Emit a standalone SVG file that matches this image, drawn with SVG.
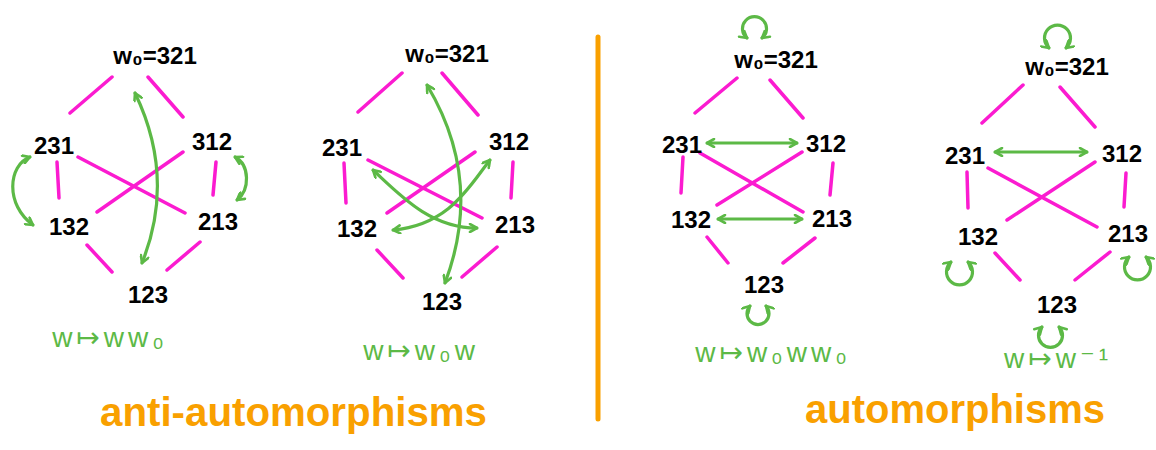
<svg xmlns="http://www.w3.org/2000/svg" width="1156" height="450" viewBox="0 0 1156 450">
<style>
.e{stroke:#fb1bd0;stroke-width:3.5;stroke-linecap:round;fill:none}
.g{stroke:#5cb946;stroke-width:3.2;stroke-linecap:round;fill:none;marker-start:url(#ah);marker-end:url(#ah)}
.n{font-family:"Liberation Sans","DejaVu Sans",sans-serif;font-size:24px;font-weight:bold;fill:#000;text-anchor:middle}
.lb{font-family:"Liberation Sans","DejaVu Sans",sans-serif;font-size:28px;fill:#5cb946;text-anchor:middle;letter-spacing:4px}
.t{font-family:"Liberation Sans","DejaVu Sans",sans-serif;font-size:40px;font-weight:bold;fill:#f9a000}
</style>
<defs>
<marker id="ah" viewBox="0 0 10 10" refX="9" refY="5" markerWidth="10" markerHeight="10" markerUnits="userSpaceOnUse" orient="auto-start-reverse">
<path d="M2 1 L9 5 L2 9" fill="none" stroke="#5cb946" stroke-width="2.6" stroke-linecap="round" stroke-linejoin="round"/>
</marker>
</defs>
<rect width="1156" height="450" fill="#fff"/>
<g id="connectors">
<path class="e" d="M112 77L70 113M148 77L183 117M57 162L59 198M216 162L213 195M78 157L185 213M183 152L97 212M87 245L112 272M200 242L167 270"/>
<path class="e" d="M402 73L358 112M442 73L478 115M344 163L346 203M513 162L511 198M368 160L482 218M475 152L387 213M377 250L403 278M497 247L462 277"/>
<path class="e" d="M737 78L695 113M770 80L803 118M683 157L681 193M833 163L830 195M700 153L803 212M802 152L717 205M707 237L728 263M815 238L783 263"/>
<path class="e" d="M1023 85L982 123M1060 87L1095 127M967 172L968 208M1126 173L1124 207M988 168L1097 227M1095 162L1007 220M995 253L1020 280M1110 252L1075 280"/>
<path class="g" d="M135 93Q176 178 142 263"/>
<path class="g" d="M30 157C8 165 5 205 33 225"/>
<path class="g" d="M235 157C250 165 250 190 237 200"/>
<path class="g" d="M427 85Q484 180 445 283"/>
<path class="g" d="M373 170C400 195 430 228 477 228"/>
<path class="g" d="M490 160C470 185 450 225 393 230"/>
<path class="g" d="M707 143L797 143"/>
<path class="g" d="M718 219L802 219"/>
<path class="g" d="M747 38A12 12 0 1 1 762 38"/>
<path class="g" d="M750 306A11 11 0 1 0 766 306"/>
<path class="g" d="M995 152L1087 152"/>
<path class="g" d="M1049 48A13 13 0 1 1 1066 48"/>
<path class="g" d="M951 262A13 13 0 1 0 968 262"/>
<path class="g" d="M1129 257A13 13 0 1 0 1146 257"/>
<path class="g" d="M1042 327A12 12 0 1 0 1059 327"/>
</g>
<g id="d1-321"><text class="n" x="155" y="64">w₀=321</text></g>
<g id="d1-231"><text class="n" x="54" y="154">231</text></g>
<g id="d1-312"><text class="n" x="212" y="150">312</text></g>
<g id="d1-132"><text class="n" x="69" y="235">132</text></g>
<g id="d1-213"><text class="n" x="218" y="230">213</text></g>
<g id="d1-123"><text class="n" x="148" y="303">123</text></g>
<g id="d2-321"><text class="n" x="447" y="62">w₀=321</text></g>
<g id="d2-231"><text class="n" x="342" y="156">231</text></g>
<g id="d2-312"><text class="n" x="509" y="150">312</text></g>
<g id="d2-132"><text class="n" x="357" y="237">132</text></g>
<g id="d2-213"><text class="n" x="515" y="233">213</text></g>
<g id="d2-123"><text class="n" x="442" y="310">123</text></g>
<g id="d3-321"><text class="n" x="776" y="68">w₀=321</text></g>
<g id="d3-231"><text class="n" x="682" y="153">231</text></g>
<g id="d3-312"><text class="n" x="826" y="152">312</text></g>
<g id="d3-132"><text class="n" x="691" y="228">132</text></g>
<g id="d3-213"><text class="n" x="832" y="227">213</text></g>
<g id="d3-123"><text class="n" x="764" y="293">123</text></g>
<g id="d4-321"><text class="n" x="1067" y="75">w₀=321</text></g>
<g id="d4-231"><text class="n" x="965" y="164">231</text></g>
<g id="d4-312"><text class="n" x="1122" y="162">312</text></g>
<g id="d4-132"><text class="n" x="978" y="245">132</text></g>
<g id="d4-213"><text class="n" x="1128" y="242">213</text></g>
<g id="d4-123"><text class="n" x="1057" y="313">123</text></g>
<g id="labels">
<text class="lb" x="110" y="347">w↦ww₀</text>
<text class="lb" x="421" y="360">w↦w₀w</text>
<text class="lb" x="773" y="362">w↦w₀ww₀</text>
<text class="lb" x="1058" y="368">w↦w⁻¹</text>
</g>
<line x1="598" y1="37" x2="598" y2="419" stroke="#f9a000" stroke-width="5" stroke-linecap="round"/>
<g id="titles">
<text class="t" x="100" y="426" textLength="387" lengthAdjust="spacingAndGlyphs">anti-automorphisms</text>
<text class="t" x="805" y="423" textLength="300" lengthAdjust="spacingAndGlyphs">automorphisms</text>
</g>
</svg>
